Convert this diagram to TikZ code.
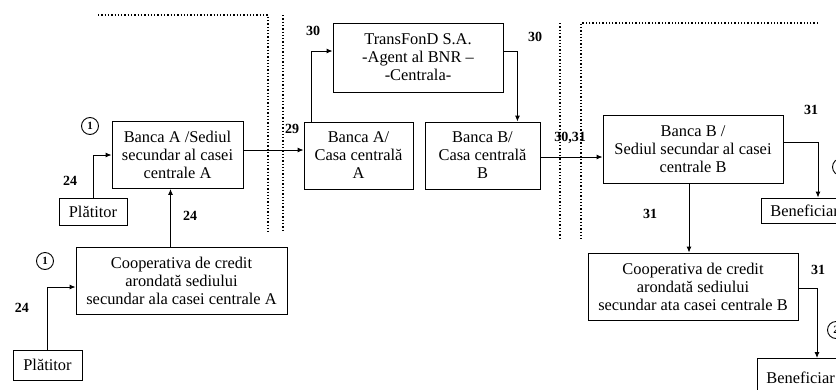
\documentclass[tikz,border=0pt]{standalone}
\usepackage{fontspec}
\setmainfont{Liberation Serif}
\usepackage{tikz}
\usetikzlibrary{arrows.meta,calc,positioning}

\begin{document}
\begin{tikzpicture}[x=1pt,y=-1pt,
    box/.style={draw,line width=0.9pt,align=center,inner sep=2pt,
        font=\fontsize{16.4}{18}\selectfont},
    arr/.style={line width=0.9pt,-{Latex[length=6pt,width=5pt]}},
    sep/.style={line width=1.3pt,dash pattern=on 1.3pt off 2pt},
    num/.style={font=\fontsize{14}{14}\selectfont\bfseries},
    step no/.style={draw,circle,line width=0.9pt,inner sep=0pt,minimum size=17pt,
        font=\fontsize{11}{11}\selectfont\bfseries}]
    \useasboundingbox (0,0) rectangle (836,389);
    \clip (0,0) rectangle (836,389);
    % separating lines
    \draw[sep] (98,15) -- (268,15) -- (268,232);
    \draw[sep] (283,15) -- (283,232);
    \draw[sep] (560,23) -- (560,238);
    \draw[sep] (818,23) -- (581,23) -- (581,240);
    % banks
    \node[box,minimum width=131,minimum height=67] (bA) at (177.5,155) {Banca A /Sediul\\secundar al casei\\centrale A};
    \node[box,minimum width=68,minimum height=27] (p1) at (93,211.5) {Plătitor};
    \node[box,minimum width=211,minimum height=67] (cA) at (181.5,281) {Cooperativa de credit\\arondată sediului\\secundar ala casei centrale A};
    \node[box,minimum width=69,minimum height=30] (p2) at (47.5,365) {Plătitor};
    \node[box,minimum width=170,minimum height=69] (tf) at (418,57.5) {TransFonD S.A.\\-Agent al BNR --\\-Centrala-};
    \node[box,minimum width=109,minimum height=67] (cca) at (358.5,155.5) {Banca A/\\Casa centrală\\A};
    \node[box,minimum width=115,minimum height=67] (ccb) at (482.5,155.5) {Banca B/\\Casa centrală\\B};
    \node[box,minimum width=180,minimum height=68] (bB) at (693,149) {Banca B /\\Sediul secundar al casei\\centrale B};
    \node[box,anchor=west,inner xsep=9pt,minimum height=25] (b1) at (761,210.5) {Beneficiar};
    \node[box,minimum width=210,minimum height=67] (cB) at (693,286.5) {Cooperativa de credit\\arondată sediului\\secundar ata casei centrale B};
    \node[box,anchor=north west,inner xsep=9pt,minimum height=38] (b2) at (757,358) {Beneficiar};
    % payments
    \draw[arr] (p1.north) |- (bA.west);
    \draw[arr] ([xshift=-11pt]cA.north) coordinate (cAup) -- (cAup |- bA.south);
    \draw[arr] (p2.north) |- ([yshift=-6pt]cA.west);
    \draw[arr] ([yshift=5pt]bA.east) coordinate (bAout) -- (bAout -| cca.west);
    \draw[arr] ([xshift=8pt]cca.north west) |- ([yshift=6.5pt]tf.west);
    \draw[arr] ([yshift=6.5pt]tf.east) -| ([xshift=-23pt]ccb.north east);
    \draw[arr] ([yshift=-1.5pt]ccb.east) coordinate (ccbout) -- (ccbout -| bB.west);
    \draw[arr] ([yshift=7pt]bB.east) -| ([xshift=57pt]b1.north west);
    \draw[arr] ([xshift=-4pt]bB.south) -- ([xshift=-4pt]cB.north);
    \draw[arr] ([yshift=-1.5pt]cB.east) -| ([xshift=60pt]b2.north west);
    % numbers
    \node[num] (l24a) at (70,181) {24};
    \node[num] (l24b) at (190,216) {24};
    \node[num] (l24c) at (22,308) {24};
    \node[num] (l29) at (292,129) {29};
    \node[num] (l30a) at (313,31) {30};
    \node[num] (l30b) at (535,37) {30};
    \node[num] (l3031) at (570,138) {30,31};
    \node[num] (l31a) at (811,110) {31};
    \node[num] (l31b) at (650,214) {31};
    \node[num] (l31c) at (818,270) {31};
    \node[step no] (s1a) at (90,126) {1};
    \node[step no] (s1b) at (45,261) {1};
    \node[step no] (s2a) at (841,167) {2};
    \node[step no] (s2b) at (836,330) {2};
\end{tikzpicture}
\end{document}
